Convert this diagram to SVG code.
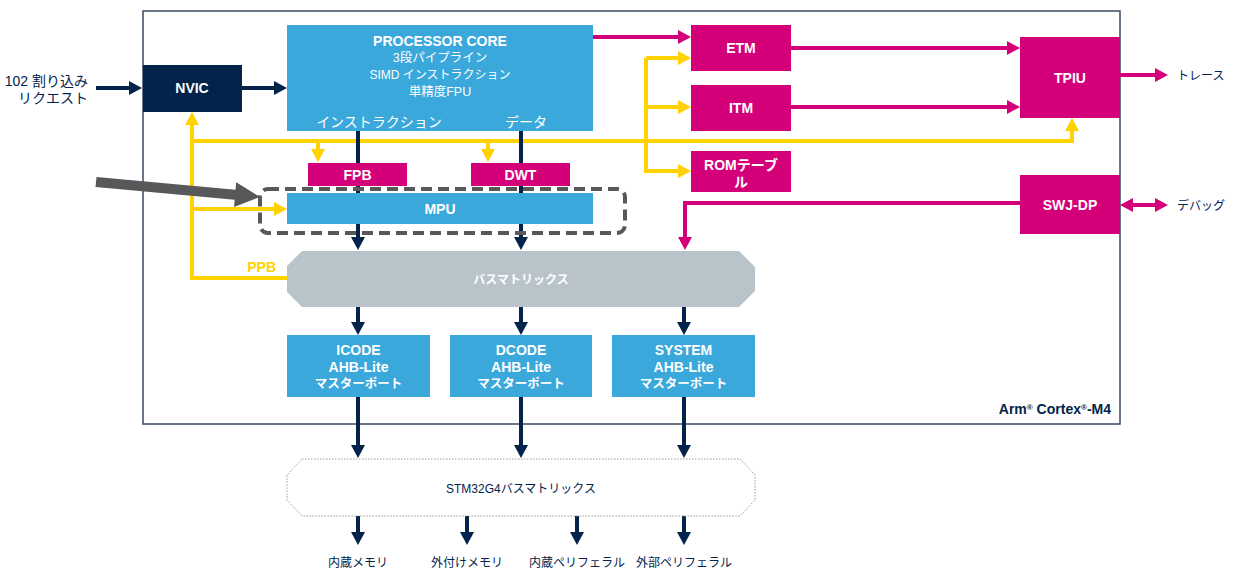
<svg xmlns="http://www.w3.org/2000/svg" width="1233" height="572" viewBox="0 0 1233 572">
<style>
text{font-family:"Liberation Sans","Noto Sans CJK JP",sans-serif;font-size:14px}
.w{fill:#fff;text-anchor:middle}
.b{font-weight:bold}
.n{fill:#03234b}
.c{text-anchor:middle}
.s12{font-size:12px}
.k{font-size:12.5px}
.blue{fill:#3aa8db}
.mag{fill:#d4007a}
.navy{fill:#03234b}
.ln{fill:none;stroke:#03234b;stroke-width:4;marker-end:url(#aN)}
.ly{fill:none;stroke:#ffd200;stroke-width:4;marker-end:url(#aY)}
.lm{fill:none;stroke:#d4007a;stroke-width:4;marker-end:url(#aM)}
</style>
<defs>
<marker id="aN" markerUnits="userSpaceOnUse" markerWidth="15" markerHeight="15" refX="7" refY="7" orient="auto"><path d="M0,0 L13,7 L0,14 z" fill="#03234b"/></marker>
<marker id="aY" markerUnits="userSpaceOnUse" markerWidth="15" markerHeight="15" refX="7" refY="7" orient="auto"><path d="M0,0 L13,7 L0,14 z" fill="#ffd200"/></marker>
<marker id="aM" markerUnits="userSpaceOnUse" markerWidth="15" markerHeight="15" refX="7" refY="7" orient="auto-start-reverse"><path d="M0,0 L13,7 L0,14 z" fill="#d4007a"/></marker>
</defs>
<rect width="1233" height="572" fill="#fff"/>
<g id="cortex-m4-frame">
<rect x="143" y="11" width="977" height="413" fill="none" stroke="#3a4a5e" stroke-width="1.5"/>
<text x="1111" y="414" class="b n" text-anchor="end" font-size="12">Arm<tspan font-size="8" baseline-shift="super">®</tspan> Cortex<tspan font-size="8" baseline-shift="super">®</tspan>-M4</text>
</g>
<g id="connectors">
<path class="ln" d="M96,88 H136"/>
<path class="ln" d="M242,88 H281"/>
<path class="ly" d="M192,141 H1072 V124"/>
<path class="ln" d="M358,131 V244"/>
<path class="ln" d="M521,131 V244"/>
<path class="ly" d="M287,278 H192 V118"/>
<path class="ly" d="M318,141 V156"/>
<path class="ly" d="M488,141 V156"/>
<path class="ly" d="M192,209 H281"/>
<path class="ly" d="M646,58 V171 H685"/>
<path class="ly" d="M646,58 H685"/>
<path class="ly" d="M646,107 H685"/>
<path class="lm" d="M593,37 H685"/>
<path class="lm" d="M791,48 H1014"/>
<path class="lm" d="M791,107 H1014"/>
<path class="lm" d="M1120,75 H1162"/>
<path class="lm" d="M1126,205 H1162" marker-start="url(#aM)"/>
<path class="lm" d="M1020,203 H685 V244"/>
<path class="ln" d="M358,307 V329"/>
<path class="ln" d="M521,307 V329"/>
<path class="ln" d="M684,307 V329"/>
<path class="ln" d="M358,397 V452"/>
<path class="ln" d="M521,397 V452"/>
<path class="ln" d="M684,397 V452"/>
<path class="ln" d="M358,516 V539"/>
<path class="ln" d="M467,516 V539"/>
<path class="ln" d="M577,516 V539"/>
<path class="ln" d="M684,516 V539"/>
<polygon points="96.5,177 235.5,189.7 236.2,182.3 260,197 234,207.1 234.7,199.7 95.5,187" fill="#58585a"/>
</g>
<g id="irq-input">
<text x="88" y="86" class="n" font-size="13" text-anchor="end">102 割り込み</text>
<text x="88" y="103" class="n" font-size="13" text-anchor="end">リクエスト</text>
</g>
<g id="nvic">
<rect x="143" y="65" width="99" height="47" class="navy"/>
<text x="192" y="93" class="w b">NVIC</text>
</g>
<g id="processor-core">
<rect x="287" y="25" width="306" height="106" class="blue"/>
<text x="440" y="46" class="w b">PROCESSOR CORE</text>
<text x="440" y="62" class="w k">3段パイプライン</text>
<text x="440" y="79" class="w s12">SIMD インストラクション</text>
<text x="440" y="96" class="w k">単精度FPU</text>
<text x="379" y="127" class="w" font-size="11.5">インストラクション</text>
<text x="526" y="127" class="w" font-size="11.5">データ</text>
</g>
<g id="fpb">
<rect x="308" y="163" width="99" height="23" class="mag"/>
<text x="357.5" y="180" class="w b">FPB</text>
</g>
<g id="dwt">
<rect x="471" y="163" width="99" height="23" class="mag"/>
<text x="520.5" y="180" class="w b">DWT</text>
</g>
<g id="mpu-group">
<rect x="260" y="189" width="365" height="44" rx="8" fill="none" stroke="#58585a" stroke-width="4" stroke-dasharray="11,6"/>
</g>
<g id="mpu">
<rect x="287" y="193" width="306" height="31" class="blue"/>
<text x="440" y="214" class="w b">MPU</text>
</g>
<g id="bus-matrix">
<polygon points="302,251 739,251 755,267 755,291 739,307 302,307 287,292 287,266" fill="#b9c4ca"/>
<text x="521" y="284" class="w b s12">バスマトリックス</text>
<text x="276" y="272" fill="#ffd200" class="b" text-anchor="end" font-size="12">PPB</text>
</g>
<g id="etm">
<rect x="691" y="25" width="100" height="46" class="mag"/>
<text x="741" y="53" class="w b">ETM</text>
</g>
<g id="itm">
<rect x="691" y="85" width="100" height="46" class="mag"/>
<text x="741" y="113" class="w b">ITM</text>
</g>
<g id="rom-table">
<rect x="691" y="151" width="100" height="41" class="mag"/>
<text x="741" y="170" class="w b" font-size="13">ROMテーブ</text>
<text x="741" y="187" class="w b" font-size="13">ル</text>
</g>
<g id="tpiu">
<rect x="1020" y="37" width="100" height="81" class="mag"/>
<text x="1070" y="83" class="w b">TPIU</text>
</g>
<g id="trace-out">
<text x="1177" y="80" class="n s12">トレース</text>
</g>
<g id="swj-dp">
<rect x="1020" y="175" width="100" height="59" class="mag"/>
<text x="1070" y="210" class="w b">SWJ-DP</text>
</g>
<g id="debug-io">
<text x="1177" y="210" class="n s12">デバッグ</text>
</g>
<g id="icode">
<rect x="287" y="335" width="143" height="62" class="blue"/>
<text x="358.5" y="355" class="w b">ICODE</text>
<text x="358.5" y="372" class="w b">AHB-Lite</text>
<text x="358.5" y="388" class="w b k">マスターポート</text>
</g>
<g id="dcode">
<rect x="450" y="335" width="142" height="62" class="blue"/>
<text x="521" y="355" class="w b">DCODE</text>
<text x="521" y="372" class="w b">AHB-Lite</text>
<text x="521" y="388" class="w b k">マスターポート</text>
</g>
<g id="system">
<rect x="612" y="335" width="143" height="62" class="blue"/>
<text x="683.5" y="355" class="w b">SYSTEM</text>
<text x="683.5" y="372" class="w b">AHB-Lite</text>
<text x="683.5" y="388" class="w b k">マスターポート</text>
</g>
<g id="stm32g4-bus-matrix">
<polygon points="302,459 740,459 755,475 755,500 740,516 302,516 287,500 287,475" fill="#fff" stroke="#9a9a9a" stroke-width="1" stroke-dasharray="1.5,1.5"/>
<text x="521" y="493" class="n c s12">STM32G4バスマトリックス</text>
</g>
<g id="outputs">
<text x="358" y="567" class="n c s12">内蔵メモリ</text>
<text x="467" y="567" class="n c s12">外付けメモリ</text>
<text x="577" y="567" class="n c s12">内蔵ペリフェラル</text>
<text x="684" y="567" class="n c s12">外部ペリフェラル</text>
</g>
</svg>
